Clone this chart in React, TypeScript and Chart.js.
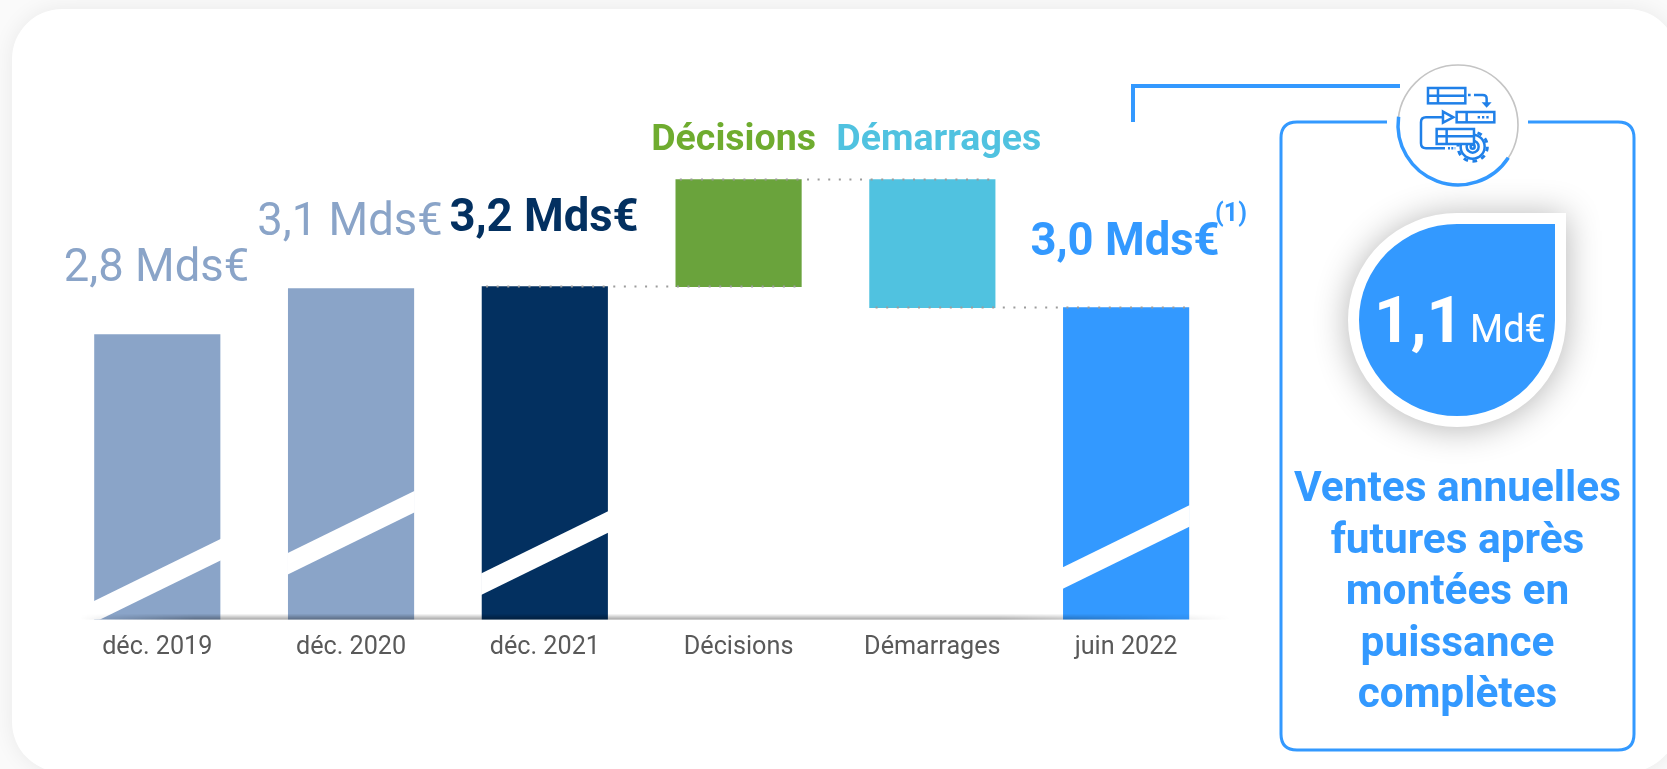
import React, { useEffect, useRef } from "react";
import { Chart, registerables } from "chart.js";

Chart.register(...registerables);

const categories = ["déc. 2019", "déc. 2020", "déc. 2021", "Décisions", "Démarrages", "juin 2022"];
const barLow = [0.425, 0.425, 0.425, 3.2, 3.025, 0.425];
const barHigh = [2.8, 3.183, 3.2, 4.092, 4.092, 3.025];
const barColors = ["#8AA4C8", "#8AA4C8", "#033060", "#6AA33C", "#50C2E0", "#3399FF"];
const valueLabels = ["2,8 Mds€", "3,1 Mds€", "3,2 Mds€", "Décisions", "Démarrages", "3,0 Mds€"];
const labelColors = ["#8AA4C8", "#8AA4C8", "#033060", "#6FAC2F", "#50C2E0", "#3399FF"];
const panelLines = ["Ventes annuelles", "futures après", "montées en", "puissance", "complètes"];

const BLUE = "#3399FF";
const FONT = "Roboto";

// index-aligned drawing details for the canvas overlay
const labelPos: [number, number, string, number][] = [
  [156.5, 281, "400", 45.4],
  [350, 235, "400", 45.4],
  [544, 231, "700", 45.4],
  [733.6, 150, "700", 37.5],
  [938.8, 150, "700", 37.5],
  [1125, 255, "700", 45.4],
];
const breakLeftY: (number | null)[] = [600.7, 552.7, 573, null, null, 567];

const overlay = {
  id: "overlay",
  afterDatasetsDraw(chart: any) {
    const { ctx } = chart;
    const bars = chart.getDatasetMeta(0).data;
    const box = (i: number) => {
      const b = bars[i];
      return { l: b.x - b.width / 2, r: b.x + b.width / 2, top: b.y, bottom: b.base };
    };
    // white axis-break bands
    ctx.save();
    ctx.fillStyle = "#fff";
    breakLeftY.forEach((y, i) => {
      if (y === null) return;
      const b = box(i);
      const rise = (b.r - b.l) * 0.49;
      ctx.save();
      ctx.beginPath();
      ctx.rect(b.l - 1, 0, b.r - b.l + 2, b.bottom);
      ctx.clip();
      ctx.beginPath();
      ctx.moveTo(b.l - 1, y + 0.5);
      ctx.lineTo(b.r + 1, y - rise - 0.5);
      ctx.lineTo(b.r + 1, y - rise + 21);
      ctx.lineTo(b.l - 1, y + 22);
      ctx.closePath();
      ctx.fill();
      ctx.restore();
    });
    ctx.restore();

    // baseline shadow
    const base = box(0).bottom;
    const off = document.createElement("canvas");
    off.width = chart.width;
    off.height = 8;
    const o = off.getContext("2d")!;
    const v = o.createLinearGradient(0, 0, 0, 6);
    v.addColorStop(0, "rgba(0,0,0,0)");
    v.addColorStop(1, "rgba(0,0,0,0.36)");
    o.fillStyle = v;
    o.fillRect(0, 0, chart.width, 6);
    o.globalCompositeOperation = "destination-in";
    const h = o.createLinearGradient(80, 0, 1230, 0);
    h.addColorStop(0, "rgba(0,0,0,0)");
    h.addColorStop(0.1, "rgba(0,0,0,1)");
    h.addColorStop(0.8, "rgba(0,0,0,1)");
    h.addColorStop(1, "rgba(0,0,0,0)");
    o.fillStyle = h;
    o.fillRect(0, 0, chart.width, 8);
    ctx.drawImage(off, 0, base - 6);

    // dotted connectors
    ctx.save();
    ctx.strokeStyle = "#9c9c9c";
    ctx.lineWidth = 2;
    ctx.setLineDash([2, 8.6]);
    const seg = (a: number, c: number, y: number) => {
      ctx.beginPath();
      ctx.moveTo(a, y);
      ctx.lineTo(c, y);
      ctx.stroke();
    };
    seg(box(2).l + 4, box(3).r, box(2).top);
    seg(box(3).l + 4, box(4).r, box(3).top);
    seg(box(4).l + 6, box(5).r, box(5).top);
    ctx.restore();

    // value labels
    ctx.save();
    ctx.textAlign = "center";
    ctx.textBaseline = "alphabetic";
    valueLabels.forEach((t, i) => {
      const [x, y, w, s] = labelPos[i];
      ctx.font = `${w} ${s}px ${FONT}`;
      ctx.fillStyle = labelColors[i];
      ctx.fillText(t, x, y);
    });
    ctx.font = `700 25px ${FONT}`;
    ctx.fillStyle = BLUE;
    ctx.fillText("(1)", 1231, 221);
    ctx.restore();
  },
};

export default function App() {
  const ref = useRef<HTMLCanvasElement>(null);
  useEffect(() => {
    document.body.style.margin = "0";
    const chart = new Chart(ref.current!, {
      type: "bar",
      data: {
        labels: categories,
        datasets: [
          {
            data: barLow.map((l, i) => [l, barHigh[i]]),
            backgroundColor: barColors,
            barThickness: 125.5,
            borderWidth: 0,
          },
        ],
      },
      options: {
        animation: false,
        responsive: false,
        events: [],
        layout: { padding: { left: 60.4, right: 444, top: 0, bottom: 0 } },
        plugins: { legend: { display: false }, tooltip: { enabled: false } },
        scales: {
          x: {
            grid: { display: false },
            border: { display: false },
            ticks: { color: "#595959", font: { family: FONT, size: 25.2 }, padding: 5, maxRotation: 0, autoSkip: false },
            afterFit: (s: any) => {
              s.height = 149.4;
            },
          },
          y: { display: false, min: 0.425, max: 5.588 },
        },
      },
      plugins: [overlay],
    } as any);
    return () => chart.destroy();
  }, []);

  return (
    <div style={{ position: "absolute", left: 0, top: 0, width: 1667, height: 769, overflow: "hidden", background: "#fafafa" }}>
      <div
        style={{
          position: "absolute",
          left: 12,
          top: 9,
          width: 1666,
          height: 763,
          borderRadius: 50,
          background: "#fff",
          boxShadow: "0 0 22px rgba(0,0,0,0.07)",
        }}
      />
      <canvas ref={ref} width={1667} height={769} style={{ position: "absolute", left: 0, top: 0 }} />

      {/* panel frame, connector and icon */}
      <svg width={1667} height={769} style={{ position: "absolute", left: 0, top: 0 }}>
        <path d="M1133 122 V86 H1400" fill="none" stroke={BLUE} strokeWidth={4} />
        <path
          d="M1387 122 H1297 Q1281 122 1281 138 V734 Q1281 750 1297 750 H1618 Q1634 750 1634 734 V138 Q1634 122 1618 122 H1528"
          fill="none"
          stroke={BLUE}
          strokeWidth={3}
        />
        <circle cx={1458} cy={125} r={60} fill="#fff" stroke="#c4c4c4" strokeWidth={1.6} />
        <path d="M1398.6 116.7 A60 60 0 0 0 1508.3 157.7" fill="none" stroke={BLUE} strokeWidth={3.5} />
        <g transform="translate(1300 60) scale(0.3333)" fill="none" stroke="#2080E8" strokeWidth={7.5}>
          <rect x={384} y={84} width={112} height={46} />
          <path d="M384 107 H496 M414 84 V130" />
          <path d="M504 105 H512 M522 105 H548 Q560 105 560 116 V132" />
          <path d="M545 127 L575 127 L560 143 Z" fill="#2080E8" stroke="none" />
          <rect x={470} y={156} width={113} height={31} />
          <path d="M500 156 V187" />
          <path d="M533 172 H571" strokeDasharray="7 6" />
          <path d="M429 155 L460 172 L429 188 Z" />
          <path d="M429 172 H378 Q363 172 363 187 V250 Q363 265 378 265 H435" />
          <path d="M444 265 H466" strokeDasharray="6 4" />
          <circle cx={518} cy={260} r={36} />
          <circle cx={518} cy={260} r={44} strokeWidth={9} strokeDasharray="14 13.6" />
          <circle cx={518} cy={260} r={18} />
          <circle cx={518} cy={260} r={6} />
          <rect x={410} y={207} width={112} height={45} fill="#fff" />
          <path d="M410 229 H522 M440 207 V252" />
        </g>
      </svg>

      {/* drop-shaped badge */}
      <div
        style={{
          position: "absolute",
          left: 1348,
          top: 213,
          width: 196,
          height: 192,
          border: "11px solid #fff",
          borderRadius: "50% 0 50% 50%",
          background: BLUE,
          boxShadow: "0 2px 34px rgba(0,0,0,0.3)",
        }}
      />
      <div style={{ position: "absolute", left: 1374, top: 283, color: "#fff", fontFamily: FONT, fontWeight: 700, fontSize: 64, lineHeight: "76px", whiteSpace: "nowrap" }}>1,1</div>
      <div style={{ position: "absolute", left: 1470, top: 306, color: "#fff", fontFamily: FONT, fontWeight: 400, fontSize: 38, lineHeight: "46px", whiteSpace: "nowrap" }}>Md€</div>

      <div
        style={{
          position: "absolute",
          left: 1281,
          top: 461,
          width: 353,
          textAlign: "center",
          color: BLUE,
          fontFamily: FONT,
          fontWeight: 700,
          fontSize: 42.4,
          lineHeight: "51.5px",
        }}
      >
        {panelLines.map((l) => (
          <div key={l}>{l}</div>
        ))}
      </div>
    </div>
  );
}
